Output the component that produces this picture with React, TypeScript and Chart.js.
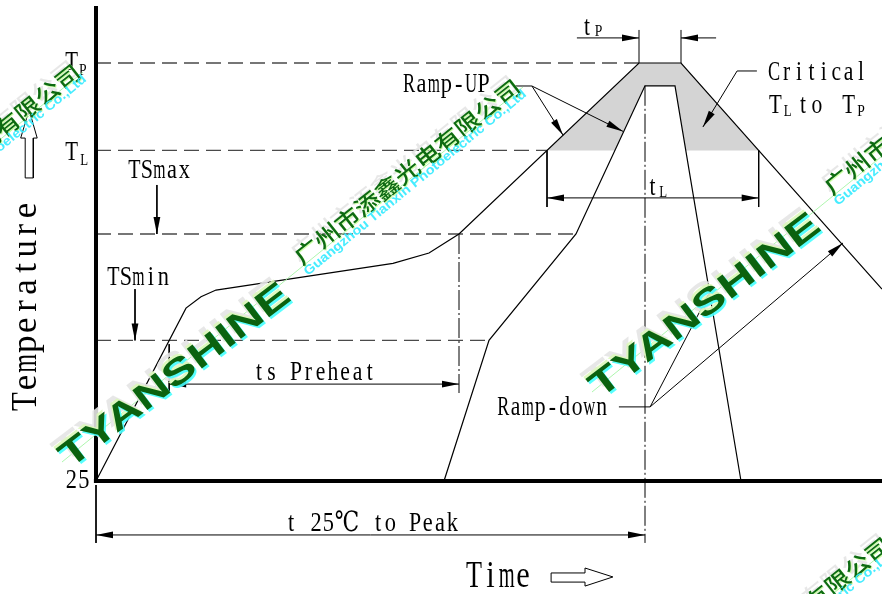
import React, { useEffect, useRef } from "react";
import { Chart, registerables } from "chart.js";

Chart.register(...registerables);

// ---- temperature levels (schematic units) ----
const T_START = 25;
const TS_MIN = 99;
const TS_MAX = 155;
const T_L = 199;
const T_P = 245;
const T_INNER_PEAK = 233;

// ---- upper (hot) profile ----
const outerTime = [0, 30, 35, 40, 99, 111, 121, 181, 195, 262];
const outerTemp = [25, 116, 122, 125.5, 139.5, 145, TS_MAX, T_P, T_P, 126];

// ---- lower (cool) profile ----
const innerTime = [116, 131, 160, 183, 193, 215];
const innerTemp = [25, TS_MIN, TS_MAX, T_INNER_PEAK, T_INNER_PEAK, 25];

// ---- dimension line heights ----
const DIM_TP = 258.2;
const DIM_TL = 174;
const DIM_TS = 76;
const DIM_T25 = -3.4;

// ---- scale window ----
const X_MIN = -32;
const X_MAX = 262;
const Y_MIN = 25 - 113 / 1.9;
const Y_MAX = 25 + 481 / 1.9;

type P = { x: number; y: number };

const zip = (xs: number[], ys: number[]): P[] => xs.map((x, i) => ({ x, y: ys[i] }));

function crossings(xs: number[], ys: number[], level: number): number[] {
  const out: number[] = [];
  for (let i = 1; i < xs.length; i++) {
    const a = ys[i - 1] - level;
    const b = ys[i] - level;
    if (a * b < 0) {
      const t = (level - ys[i - 1]) / (ys[i] - ys[i - 1]);
      out.push(xs[i - 1] + t * (xs[i] - xs[i - 1]));
    }
  }
  return out;
}

function clipAbove(xs: number[], ys: number[], level: number): P[] {
  const pts: P[] = [];
  for (let i = 0; i < xs.length; i++) {
    if (i > 0) {
      const a = ys[i - 1] - level;
      const b = ys[i] - level;
      if (a * b < 0) {
        const t = (level - ys[i - 1]) / (ys[i] - ys[i - 1]);
        pts.push({ x: xs[i - 1] + t * (xs[i] - xs[i - 1]), y: level });
      }
    }
    if (ys[i] >= level) pts.push({ x: xs[i], y: ys[i] });
  }
  return pts;
}

const tlCross = crossings(outerTime, outerTemp, T_L);
const tsStart = crossings(outerTime, outerTemp, TS_MIN)[0];
const tsEnd = outerTime[6];
const peakL = outerTime[7];
const peakR = outerTime[8];
const innerPeakX = innerTime[3];

const outerAbove = clipAbove(outerTime, outerTemp, T_L);
const innerAbove = clipAbove(innerTime, innerTemp, T_L);
const shadePoly: P[] = [...outerAbove, ...innerAbove.slice().reverse(), outerAbove[0]];

// ---- text labels (data coordinates of left end / baseline) ----
type Label = { t: string; x: number; y: number; size: number; cell: number; rot?: number; sMax?: number };
const LABELS: Label[] = [
  { t: "TSmax", x: 10.7, y: 184.5, size: 28, cell: 12.5 },
  { t: "TSmin", x: 3.7, y: 128.2, size: 28, cell: 12.5 },
  { t: "ts Preheat", x: 52.3, y: 78.2, size: 27, cell: 12.3 },
  { t: "t 25℃ to Peak", x: 63, y: -1.3, size: 28, cell: 12.4 },
  { t: "Ramp-UP", x: 102.3, y: 229.5, size: 28, cell: 12.4 },
  { t: "Ramp-down", x: 133.7, y: 60, size: 27, cell: 12.3 },
  { t: "Critical", x: 224, y: 236.1, size: 27, cell: 12.4 },
  { t: "T", x: 224.3, y: 218.7, size: 27, cell: 13 },
  { t: "L", x: 229.2, y: 217, size: 17, cell: 8 },
  { t: "to", x: 233.3, y: 218.7, size: 27, cell: 14 },
  { t: "T", x: 248.7, y: 218.7, size: 27, cell: 13 },
  { t: "P", x: 253.7, y: 217, size: 17, cell: 8 },
  { t: "T", x: -10.3, y: 241.3, size: 27, cell: 13 },
  { t: "P", x: -5.7, y: 238.7, size: 17, cell: 8 },
  { t: "T", x: -10.3, y: 194, size: 27, cell: 13 },
  { t: "L", x: -5.3, y: 191.3, size: 17, cell: 8 },
  { t: "25", x: -10.3, y: 21.3, size: 28, cell: 12.5 },
  { t: "t", x: 161.8, y: 259.7, size: 27, cell: 11 },
  { t: "P", x: 166.2, y: 259.2, size: 17, cell: 8 },
  { t: "t", x: 183.7, y: 175.5, size: 27, cell: 11 },
  { t: "L", x: 187.7, y: 174.5, size: 17, cell: 8 },
  { t: "Time", x: 123.3, y: -30.8, size: 38, cell: 16.3 },
  { t: "Temperature", x: -20, y: 61.8, size: 35, cell: 19.1, rot: -90, sMax: 1 },
];

const FONT = '"Liberation Serif", "DejaVu Serif", "Noto Sans CJK SC", serif';

function drawMono(ctx: CanvasRenderingContext2D, text: string, size: number, cell: number, sMax: number) {
  ctx.font = `${size}px ${FONT}`;
  ctx.textAlign = "center";
  ctx.textBaseline = "alphabetic";
  let cx = 0;
  for (const ch of text) {
    const cells = ch.charCodeAt(0) > 255 ? 2 : 1;
    const w = cells * cell;
    if (ch !== " ") {
      const gw = ctx.measureText(ch).width || 1;
      const s = Math.min(sMax, (w * 0.98) / gw);
      ctx.save();
      ctx.translate(cx + w / 2, 0);
      ctx.scale(s, 1);
      ctx.fillText(ch, 0, 0);
      ctx.restore();
    }
    cx += w;
  }
}

const labelPlugin = {
  id: "labels",
  afterDatasetsDraw(chart: any) {
    const ctx: CanvasRenderingContext2D = chart.ctx;
    const xs = chart.scales.x;
    const ys = chart.scales.y;
    ctx.save();
    ctx.fillStyle = "#000";
    for (const l of LABELS) {
      ctx.save();
      ctx.translate(xs.getPixelForValue(l.x), ys.getPixelForValue(l.y));
      if (l.rot) ctx.rotate((l.rot * Math.PI) / 180);
      drawMono(ctx, l.t, l.size, l.cell, l.sMax ?? 0.8);
      ctx.restore();
    }
    ctx.restore();
  },
};

const arrowPlugin = {
  id: "arrowheads",
  afterDatasetsDraw(chart: any) {
    const ctx: CanvasRenderingContext2D = chart.ctx;
    const L = 17;
    const W = 3.4;
    chart.data.datasets.forEach((ds: any, i: number) => {
      if (!ds.heads) return;
      const pts = chart.getDatasetMeta(i).data;
      const n = pts.length;
      const draw = (tip: any, from: any) => {
        const ang = Math.atan2(tip.y - from.y, tip.x - from.x);
        ctx.save();
        ctx.translate(tip.x, tip.y);
        ctx.rotate(ang);
        ctx.beginPath();
        ctx.moveTo(0, 0);
        ctx.lineTo(-L, -W);
        ctx.lineTo(-L, W);
        ctx.closePath();
        ctx.fillStyle = "#000";
        ctx.fill();
        ctx.restore();
      };
      if (ds.heads === "end" || ds.heads === "both") draw(pts[n - 1], pts[n - 2]);
      if (ds.heads === "start" || ds.heads === "both") draw(pts[0], pts[1]);
    });
  },
};

// ---- watermark ----
function wmText(
  ctx: CanvasRenderingContext2D,
  text: string,
  font: string,
  ox: number,
  oy: number,
  angDeg: number,
  width: number,
  layers: [number, number, string][]
) {
  ctx.font = font;
  const w = ctx.measureText(text).width || 1;
  const sx = width / w;
  for (const [dx, dy, col] of layers) {
    ctx.save();
    ctx.translate(ox + dx, oy + dy);
    ctx.rotate((angDeg * Math.PI) / 180);
    ctx.scale(sx, 1);
    ctx.fillStyle = col;
    ctx.textAlign = "left";
    ctx.textBaseline = "alphabetic";
    ctx.fillText(text, 0, 0);
    ctx.restore();
  }
}

function drawWatermark(ctx: CanvasRenderingContext2D, ox: number, oy: number) {
  // thin guide line
  ctx.save();
  ctx.strokeStyle = "rgba(165,245,165,0.9)";
  ctx.lineWidth = 1;
  ctx.beginPath();
  ctx.moveTo(ox - 8, oy - 7);
  ctx.lineTo(ox + 453, oy - 382);
  ctx.stroke();
  ctx.restore();
  const layers: [number, number, string][] = [
    [-6, -5, "rgba(228,228,228,0.9)"],
    [-2, -2, "rgba(220,248,185,0.9)"],
    [2, 2, "rgba(70,255,255,0.9)"],
    [0, 0, "#0b620f"],
  ];
  wmText(ctx, "TYANSHINE", 'bold 36px "Liberation Sans", sans-serif', ox, oy, -37.3, 280, layers);
  wmText(ctx, "广州市添鑫光电有限公司", '500 22px "Noto Sans CJK SC", sans-serif', ox + 232, oy - 203, -38.5, 282, [
    [-4, -4, "rgba(228,228,228,0.9)"],
    [1, 1, "rgba(200,255,160,0.9)"],
    [0, 0, "#0d6a12"],
  ]);
  wmText(
    ctx,
    "Guangzhou Tianxin Photoelectric Co.,Ltd",
    'bold 13px "Liberation Sans", sans-serif',
    ox + 238,
    oy - 193,
    -39.5,
    284,
    [[0, 0, "rgba(60,235,255,0.95)"]]
  );
}

const watermarkPlugin = {
  id: "watermark",
  afterDraw(chart: any) {
    const ctx: CanvasRenderingContext2D = chart.ctx;
    ctx.save();
    drawWatermark(ctx, 70, 469);
    drawWatermark(ctx, 600, 399);
    drawWatermark(ctx, -370, 454);
    drawWatermark(ctx, 440, 927);
    ctx.restore();
  },
};

const line = (pts: P[], extra: any = {}) => ({
  data: pts,
  showLine: true,
  pointRadius: 0,
  pointHoverRadius: 0,
  borderColor: "#000",
  borderWidth: 1,
  fill: false,
  order: 0,
  ...extra,
});

const DASH = { borderColor: "#4a4a4a", borderWidth: 1.3, borderDash: [15, 7] };
const DASHDOT = { borderColor: "#000", borderWidth: 1, borderDash: [20, 3, 2, 3] };

function buildDatasets() {
  const ds: any[] = [];
  // axes
  ds.push(line([{ x: 0, y: 275 }, { x: 0, y: 23.9 }], { borderWidth: 4 }));
  ds.push(line([{ x: -0.7, y: T_START }, { x: X_MAX, y: T_START }], { borderWidth: 4 }));
  // profiles
  ds.push(line(zip(outerTime, outerTemp), { borderWidth: 1.2 }));
  ds.push(line(zip(innerTime, innerTemp), { borderWidth: 1.2 }));
  // level lines
  ds.push(line([{ x: 0, y: T_P }, { x: peakL, y: T_P }], DASH));
  ds.push(line([{ x: 0, y: T_L }, { x: tlCross[0], y: T_L }], DASH));
  ds.push(line([{ x: 0, y: TS_MAX }, { x: innerTime[2], y: TS_MAX }], DASH));
  ds.push(line([{ x: 0, y: TS_MIN }, { x: innerTime[1], y: TS_MIN }], DASH));
  // dash-dot verticals
  ds.push(line([{ x: innerPeakX, y: T_INNER_PEAK }, { x: innerPeakX, y: -7.6 }], DASHDOT));
  ds.push(line([{ x: tsEnd, y: TS_MAX }, { x: tsEnd, y: 71.3 }], DASHDOT));
  // extension ticks
  ds.push(line([{ x: peakL, y: T_P }, { x: peakL, y: 262.4 }]));
  ds.push(line([{ x: peakR, y: T_P }, { x: peakR, y: 262.4 }]));
  ds.push(line([{ x: tlCross[0], y: T_L }, { x: tlCross[0], y: 169.2 }]));
  ds.push(line([{ x: tlCross[1], y: T_L }, { x: tlCross[1], y: 169.2 }]));
  ds.push(line([{ x: tsStart, y: TS_MIN - 2 }, { x: tsStart, y: 71.3 }]));
  ds.push(line([{ x: 0, y: 22.9 }, { x: 0, y: -7.6 }]));
  // dimension arrows
  ds.push(line([{ x: peakL - 20.7, y: DIM_TP }, { x: peakL, y: DIM_TP }], { heads: "end" }));
  ds.push(line([{ x: peakR + 11.7, y: DIM_TP }, { x: peakR, y: DIM_TP }], { heads: "end" }));
  ds.push(line([{ x: tlCross[0], y: DIM_TL }, { x: tlCross[1], y: DIM_TL }], { heads: "both" }));
  ds.push(line([{ x: tsStart, y: DIM_TS }, { x: tsEnd, y: DIM_TS }], { heads: "both" }));
  ds.push(line([{ x: 0, y: DIM_T25 }, { x: innerPeakX, y: DIM_T25 }], { heads: "both" }));
  // TSmax / TSmin pointers
  ds.push(line([{ x: 20.3, y: 180.8 }, { x: 20.3, y: TS_MAX }], { heads: "end" }));
  ds.push(line([{ x: 13, y: 126 }, { x: 13, y: TS_MIN }], { heads: "end" }));
  // Ramp-UP leaders
  ds.push(line([{ x: 139, y: 232.9 }, { x: 145.3, y: 232.9 }]));
  ds.push(line([{ x: 145.3, y: 232.9 }, { x: 155.7, y: 207 }], { heads: "end" }));
  ds.push(line([{ x: 145.3, y: 232.9 }, { x: 175.7, y: 209 }], { heads: "end" }));
  // Critical leader
  ds.push(line([{ x: 220.3, y: 240.8 }, { x: 213.7, y: 240.8 }]));
  ds.push(line([{ x: 213.7, y: 240.8 }, { x: 202.3, y: 211.3 }], { heads: "end" }));
  // Ramp-down leaders
  ds.push(line([{ x: 174.3, y: 64 }, { x: 184.7, y: 64 }]));
  ds.push(line([{ x: 184.7, y: 64 }, { x: 204.5, y: 124 }], { heads: "end" }));
  ds.push(line([{ x: 184.7, y: 64 }, { x: 249, y: 150.3 }], { heads: "end" }));
  // outline arrows (Time / Temperature)
  ds.push(
    line(
      [
        { x: 151.7, y: -23.4 },
        { x: 163, y: -23.4 },
        { x: 163, y: -20.8 },
        { x: 172.3, y: -25.5 },
        { x: 163, y: -30.3 },
        { x: 163, y: -28.2 },
        { x: 151.7, y: -28.2 },
        { x: 151.7, y: -23.4 },
      ],
      { borderWidth: 1 }
    )
  );
  ds.push(
    line(
      [
        { x: -23.6, y: 184.5 },
        { x: -23.6, y: 205.5 },
        { x: -25.1, y: 205.5 },
        { x: -22.3, y: 220.3 },
        { x: -19.6, y: 205.5 },
        { x: -20.9, y: 205.5 },
        { x: -20.9, y: 184.5 },
        { x: -23.6, y: 184.5 },
      ],
      { borderWidth: 1 }
    )
  );
  // critical zone shading (drawn first)
  ds.push(
    line(shadePoly, {
      fill: "shape",
      backgroundColor: "#d4d4d4",
      borderColor: "rgba(0,0,0,0)",
      borderWidth: 0.01,
      order: 10,
    })
  );
  return ds;
}

export default function App() {
  const ref = useRef<HTMLCanvasElement>(null);
  useEffect(() => {
    document.body.style.margin = "0";
    const chart = new Chart(ref.current as HTMLCanvasElement, {
      type: "scatter",
      data: { datasets: buildDatasets() },
      options: {
        animation: false,
        responsive: false,
        maintainAspectRatio: false,
        devicePixelRatio: 1,
        events: [],
        layout: { padding: 0 },
        plugins: {
          legend: { display: false },
          tooltip: { enabled: false },
          title: { display: false },
        },
        scales: {
          x: { type: "linear", min: X_MIN, max: X_MAX, display: false },
          y: { type: "linear", min: Y_MIN, max: Y_MAX, display: false },
        },
      } as any,
      plugins: [labelPlugin, arrowPlugin, watermarkPlugin],
    } as any);
    return () => chart.destroy();
  }, []);
  return (
    <div style={{ position: "fixed", left: 0, top: 0, width: 882, height: 594, background: "#fff" }}>
      <canvas ref={ref} width={882} height={594} style={{ display: "block", width: 882, height: 594 }} />
    </div>
  );
}
